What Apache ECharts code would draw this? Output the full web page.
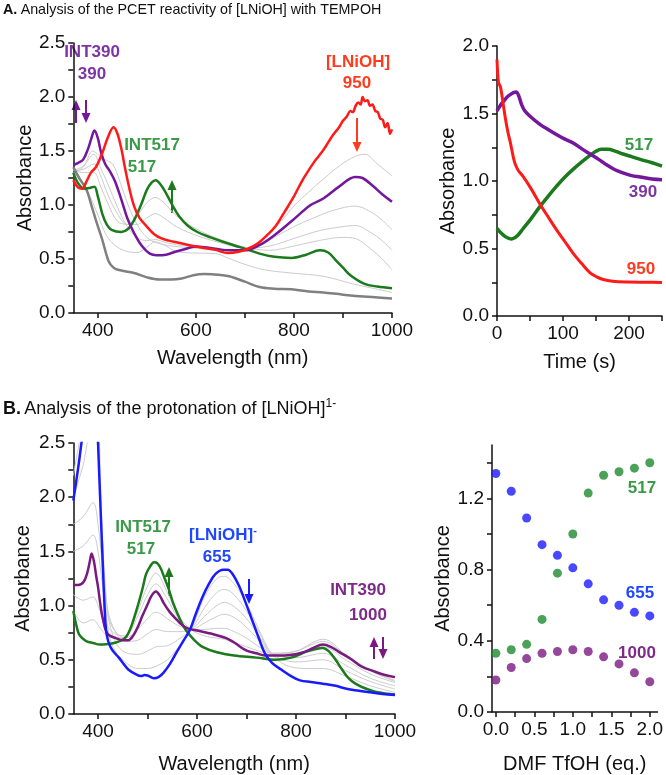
<!DOCTYPE html>
<html>
<head>
<meta charset="utf-8">
<script src="https://cdn.jsdelivr.net/npm/echarts@6/dist/echarts.min.js"></script>
<style>
  html, body { margin: 0; padding: 0; background: #fff; }
  #chart { width: 666px; height: 775px; }
</style>
</head>
<body>
<div id="chart"></div>
<script>
// ---- A: spectra during reaction of [LNiOH] with TEMPOH (wavelength nm, absorbance) ----
const aRed = [[350,1.23],[360,1.16],[368,1.15],[376,1.21],[386,1.30],[396,1.35],[409,1.48],[420,1.62],[432,1.72],[440,1.66],[448,1.52],[456,1.33],[465,1.14],[474,0.99],[485,0.88],[500,0.80],[515,0.73],[530,0.69],[545,0.67],[560,0.655],[580,0.635],[600,0.615],[620,0.60],[640,0.585],[665,0.555],[685,0.565],[704,0.59],[725,0.64],[745,0.72],[762,0.80],[780,0.93],[800,1.08],[815,1.21],[827,1.30],[840,1.39],[850,1.45],[860,1.51],[870,1.58],[880,1.65],[892,1.72],[900,1.78],[908,1.82],[915,1.87],[920,1.86],[926,1.92],[931,1.95],[936,1.93],[940,2.00],[945,1.96],[950,1.97],[955,1.92],[960,1.93],[966,1.87],[971,1.86],[976,1.80],[981,1.79],[986,1.72],[991,1.76],[996,1.66],[1000,1.70]];
const aPurple = [[350,1.37],[360,1.39],[370,1.42],[380,1.52],[387,1.62],[393,1.69],[400,1.62],[407,1.48],[415,1.38],[425,1.31],[435,1.22],[448,1.05],[460,0.88],[474,0.74],[490,0.62],[506,0.55],[520,0.535],[539,0.54],[560,0.57],[584,0.60],[600,0.615],[617,0.61],[640,0.595],[668,0.58],[700,0.58],[730,0.63],[760,0.72],[795,0.85],[834,1.00],[860,1.06],[892,1.17],[925,1.26],[940,1.25],[960,1.18],[980,1.10],[1000,1.03]];
const aGreen = [[350,1.30],[360,1.20],[373,1.15],[385,1.16],[393,1.17],[400,1.08],[409,0.92],[418,0.82],[428,0.77],[448,0.75],[462,0.78],[474,0.86],[488,1.00],[500,1.14],[510,1.21],[518,1.23],[528,1.19],[539,1.11],[552,1.00],[565,0.90],[583,0.81],[603,0.75],[630,0.70],[655,0.66],[690,0.61],[730,0.55],[760,0.52],[795,0.51],[825,0.54],[853,0.58],[870,0.56],[885,0.49],[900,0.42],[915,0.35],[944,0.27],[970,0.245],[1000,0.23]];
const aDark = [[350,1.35],[362,1.25],[377,1.14],[388,0.98],[396,0.86],[409,0.68],[422,0.48],[432,0.42],[441,0.40],[474,0.37],[500,0.33],[526,0.31],[550,0.31],[571,0.32],[595,0.35],[617,0.36],[645,0.355],[668,0.34],[700,0.29],[730,0.24],[760,0.225],[795,0.22],[830,0.20],[860,0.19],[900,0.17],[950,0.15],[1000,0.135]];
const aGray1 = [[350,1.30],[370,1.35],[390,1.50],[400,1.47],[415,1.42],[430,1.38],[445,1.22],[460,1.02],[480,0.82],[500,0.70],[520,0.65],[550,0.62],[600,0.60],[650,0.58],[700,0.59],[740,0.70],[770,0.83],[800,0.99],[830,1.12],[860,1.24],[895,1.37],[925,1.45],[945,1.47],[970,1.38],[1000,1.27]];
const aGray2 = [[350,1.32],[370,1.36],[392,1.47],[405,1.35],[420,1.20],[440,0.98],[460,0.80],[480,0.70],[500,0.67],[517,0.68],[540,0.65],[580,0.62],[630,0.60],[680,0.58],[720,0.60],[760,0.70],[800,0.80],[840,0.88],[880,0.95],[925,0.99],[955,0.94],[980,0.86],[1000,0.77]];
const aGray3 = [[350,1.32],[370,1.33],[392,1.38],[405,1.28],[420,1.10],[440,0.92],[460,0.82],[480,0.82],[500,0.88],[517,0.92],[535,0.88],[560,0.80],[600,0.72],[650,0.65],[700,0.60],[750,0.62],[800,0.69],[850,0.76],[900,0.80],[925,0.81],[955,0.75],[980,0.67],[1000,0.58]];
const aGray4 = [[350,1.33],[370,1.30],[392,1.30],[405,1.18],[420,1.02],[440,0.85],[460,0.82],[480,0.90],[500,1.02],[517,1.07],[535,1.02],[560,0.90],[600,0.78],[650,0.68],[700,0.61],[750,0.58],[800,0.62],[850,0.67],[900,0.70],[925,0.69],[955,0.60],[980,0.50],[1000,0.40]];
const aGray5 = [[350,1.30],[370,1.20],[390,1.02],[405,0.85],[420,0.70],[440,0.61],[460,0.57],[480,0.56],[500,0.61],[517,0.66],[535,0.63],[560,0.57],[600,0.555],[640,0.55],[665,0.51],[700,0.45],[740,0.40],[795,0.37],[860,0.34],[920,0.27],[960,0.23],[1000,0.19]];

// ---- A: kinetic traces (time s, absorbance) ----
const t950 = [[0,1.90],[1,1.80],[2,1.74],[3,1.72],[5,1.70],[7,1.65],[10,1.55],[12.5,1.47],[15,1.40],[17.5,1.34],[20,1.29],[22.5,1.23],[25,1.17],[28,1.12],[32,1.08],[40,1.03],[52,0.94],[65,0.83],[78,0.73],[90,0.64],[103,0.55],[116,0.46],[128,0.39],[141,0.32],[151,0.29],[161,0.27],[175,0.258],[200,0.252],[225,0.25],[250,0.248]];
const t390 = [[0,1.52],[5,1.56],[10,1.59],[15,1.62],[20,1.64],[25,1.655],[29,1.66],[33,1.63],[37,1.57],[42,1.52],[50,1.48],[65,1.42],[78,1.38],[90,1.345],[103,1.31],[116,1.28],[128,1.24],[141,1.20],[154,1.16],[166,1.12],[178,1.085],[191,1.06],[204,1.04],[217,1.03],[235,1.015],[250,1.01]];
const t517 = [[0,0.65],[5,0.62],[12,0.59],[18,0.575],[22,0.57],[27,0.58],[32,0.60],[40,0.65],[50,0.71],[65,0.81],[78,0.89],[90,0.96],[103,1.03],[116,1.09],[128,1.14],[141,1.19],[150,1.22],[158,1.235],[168,1.235],[180,1.22],[191,1.20],[204,1.18],[217,1.16],[235,1.135],[250,1.11]];

// ---- B: spectra during protonation of [LNiOH]1- ----
const bBlue = [[350,1.97],[356,2.15],[361,2.31],[368,2.55],[380,2.9],[392,3.0],[398,2.8],[400,2.5],[405,1.9],[410,1.33],[413,1.0],[416,0.78],[420,0.68],[426,0.61],[434,0.56],[442,0.52],[452,0.46],[461,0.41],[475,0.37],[487,0.35],[494,0.36],[500,0.355],[507,0.34],[513,0.33],[522,0.34],[532,0.38],[545,0.46],[560,0.58],[573,0.68],[585,0.77],[598,0.93],[611,1.08],[624,1.20],[637,1.29],[653,1.33],[662,1.33],[672,1.29],[685,1.18],[698,1.03],[711,0.87],[724,0.71],[737,0.56],[752,0.47],[770,0.41],[790,0.35],[808,0.31],[830,0.295],[854,0.28],[880,0.26],[900,0.235],[919,0.22],[950,0.20],[975,0.185],[1000,0.175]];
const bPurple = [[350,1.19],[360,1.19],[371,1.22],[378,1.30],[383,1.40],[387,1.48],[392,1.40],[396,1.28],[400,1.17],[405,1.00],[410,0.87],[419,0.74],[436,0.70],[450,0.68],[461,0.68],[472,0.73],[481,0.81],[490,0.91],[500,1.01],[508,1.09],[517,1.13],[525,1.09],[533,1.02],[545,0.94],[559,0.87],[570,0.82],[581,0.79],[600,0.77],[630,0.74],[659,0.70],[675,0.66],[698,0.59],[720,0.56],[737,0.54],[760,0.54],[789,0.545],[815,0.57],[835,0.61],[854,0.64],[870,0.62],[886,0.575],[910,0.51],[932,0.44],[960,0.39],[980,0.36],[1000,0.34]];
const bGreen = [[350,0.95],[355,0.84],[361,0.74],[368,0.70],[377,0.67],[390,0.655],[403,0.64],[420,0.645],[436,0.66],[448,0.68],[458,0.72],[468,0.82],[481,1.01],[490,1.16],[497,1.29],[505,1.36],[513,1.40],[520,1.39],[527,1.34],[533,1.27],[543,1.15],[552,1.02],[565,0.88],[578,0.77],[595,0.68],[611,0.62],[640,0.57],[675,0.54],[720,0.52],[757,0.50],[790,0.52],[821,0.575],[840,0.60],[854,0.61],[866,0.58],[880,0.50],[893,0.41],[906,0.33],[920,0.28],[938,0.24],[965,0.20],[1000,0.18]];
const bGray1 = [[350,2.2],[360,2.45],[370,2.7],[390,3.0],[400,2.8],[405,2.1],[410,1.5],[418,0.85],[430,0.62],[450,0.50],[480,0.42],[500,0.42],[517,0.44],[540,0.50],[560,0.60],[588,0.78],[615,1.08],[640,1.25],[655,1.27],[675,1.20],[700,1.02],[725,0.78],[750,0.56],[780,0.45],[820,0.42],[855,0.42],[900,0.35],[950,0.26],[1000,0.20]];
const bGray2 = [[350,2.0],[370,2.3],[390,2.75],[400,2.4],[408,1.7],[418,1.0],[430,0.72],[450,0.58],[480,0.55],[500,0.58],[517,0.62],[540,0.63],[560,0.68],[588,0.78],[615,0.98],[640,1.12],[655,1.15],[675,1.10],[700,0.95],[725,0.76],[750,0.56],[800,0.48],[855,0.50],[900,0.40],[950,0.30],[1000,0.23]];
const bGray3 = [[350,1.75],[370,1.82],[390,1.95],[400,1.75],[410,1.30],[420,0.95],[435,0.76],[455,0.67],[480,0.68],[500,0.74],[517,0.78],[540,0.76],[560,0.76],[588,0.78],[615,0.90],[640,1.00],[655,1.03],[675,0.99],[700,0.88],[725,0.72],[750,0.56],[800,0.52],[855,0.56],[900,0.45],[950,0.33],[1000,0.26]];
const bGray4 = [[350,1.50],[370,1.55],[390,1.65],[400,1.50],[410,1.15],[420,0.90],[435,0.76],[455,0.70],[480,0.78],[500,0.88],[517,0.94],[540,0.88],[560,0.82],[588,0.78],[615,0.84],[640,0.90],[655,0.92],[675,0.89],[700,0.80],[725,0.68],[750,0.56],[800,0.56],[855,0.62],[900,0.50],[950,0.37],[1000,0.29]];
const bGray5 = [[350,1.10],[370,1.05],[390,1.08],[400,1.00],[410,0.88],[420,0.80],[435,0.74],[455,0.72],[480,0.90],[500,1.10],[517,1.20],[540,1.06],[560,0.90],[588,0.78],[615,0.78],[640,0.79],[655,0.79],[675,0.76],[700,0.70],[725,0.62],[750,0.56],[800,0.58],[855,0.67],[900,0.54],[950,0.40],[1000,0.31]];
const bGray6 = [[350,0.95],[370,0.84],[390,0.87],[400,0.82],[410,0.76],[420,0.72],[435,0.70],[455,0.71],[480,0.95],[500,1.18],[517,1.30],[540,1.12],[560,0.92],[588,0.78],[615,0.72],[640,0.70],[655,0.69],[675,0.66],[700,0.62],[725,0.58],[750,0.55],[800,0.58],[855,0.69],[900,0.55],[950,0.40],[1000,0.30]];

// ---- B: titration (eq. TfOH, absorbance) ----
const eqTfOH = [0, 0.2, 0.4, 0.6, 0.8, 1.0, 1.2, 1.4, 1.6, 1.8, 2.0];
const abs517 = [0.33, 0.35, 0.38, 0.52, 0.78, 1.00, 1.23, 1.33, 1.35, 1.37, 1.40];
const abs655 = [1.34, 1.24, 1.09, 0.94, 0.88, 0.81, 0.72, 0.63, 0.60, 0.56, 0.54];
const abs1000 = [0.18, 0.25, 0.30, 0.33, 0.34, 0.35, 0.34, 0.31, 0.27, 0.22, 0.17];

// ---- tick positions ----
const wlTicks = [400, 500, 600, 700, 800, 900, 1000];
const wlLabels = [400, 600, 800, 1000];
const absTicks = [0, 0.25, 0.5, 0.75, 1.0, 1.25, 1.5, 1.75, 2.0, 2.25, 2.5];
const absLabels = [0, 0.5, 1.0, 1.5, 2.0, 2.5];
const kinYTicks = [0, 0.25, 0.5, 0.75, 1.0, 1.25, 1.5, 1.75, 2.0];
const kinYLabels = [0, 0.5, 1.0, 1.5, 2.0];
const timeTicks = [0, 50, 100, 150, 200, 250];
const timeLabels = [0, 100, 200];
const eqTicks = [0, 0.25, 0.5, 0.75, 1.0, 1.25, 1.5, 1.75, 2.0];
const eqLabels = [0, 0.5, 1.0, 1.5, 2.0];
const titYTicks = [0, 0.2, 0.4, 0.6, 0.8, 1.0, 1.2, 1.4];
const titYLabels = [0, 0.4, 0.8, 1.2];

const FONT = '"Liberation Sans", Arial, Helvetica, sans-serif';
const C = {
  red: '#ff1a1a', redT: '#ff3b1e',
  purA: '#74179c', purAT: '#7d35a5',
  purB: '#7a1a80', purBT: '#7f2a8a',
  green: '#1b7a1b', greenT: '#3a9a48', greenDot: '#1f8a2e',
  blue: '#1a1aff', blueT: '#1f47ff',
  dark: '#808080', light: '#cccccc'
};

function fix1(v) { return Number(v).toFixed(1); }

function axis(gridIndex, min, max, ticks, labels, name, gap, fmt) {
  return {
    type: 'value', gridIndex: gridIndex, min: min, max: max,
    name: name, nameLocation: 'middle', nameGap: gap,
    nameTextStyle: { fontSize: 20, color: '#111', fontFamily: FONT },
    axisLine: { show: true, onZero: false, lineStyle: { color: '#111', width: 1.5 } },
    axisTick: { show: true, customValues: ticks, length: 5, lineStyle: { color: '#111', width: 1.5 } },
    axisLabel: { customValues: labels, fontSize: 19, color: '#111', fontFamily: FONT, margin: 8, formatter: fmt },
    splitLine: { show: false }
  };
}

function line(data, idx, color, width, z) {
  return {
    type: 'line', xAxisIndex: idx, yAxisIndex: idx, data: data,
    smooth: 0.35, symbol: 'none', showSymbol: false,
    lineStyle: { color: color, width: width }, z: z || 2, silent: true
  };
}

function dots(ys, color) {
  return {
    type: 'scatter', xAxisIndex: 3, yAxisIndex: 3,
    data: eqTfOH.map((x, i) => [x, ys[i]]),
    symbolSize: 9, itemStyle: { color: color }
  };
}

function label(x, y, text, color, size) {
  return {
    type: 'text', x: x, y: y, silent: true,
    style: { text: text, fill: color, font: 'bold ' + (size || 17) + 'px ' + FONT,
      textAlign: 'center', textVerticalAlign: 'middle' }
  };
}

// vertical arrow from y1 (tail) to y2 (head)
function arrow(x, y1, y2, color) {
  const dir = y2 > y1 ? 1 : -1;
  const hb = y2 - dir * 10;
  return {
    type: 'group', silent: true,
    children: [
      { type: 'line', shape: { x1: x, y1: y1, x2: x, y2: hb }, style: { stroke: color, lineWidth: 2 } },
      { type: 'polygon', shape: { points: [[x - 4.5, hb], [x + 4.5, hb], [x, y2]] }, style: { fill: color } }
    ]
  };
}

const chart = echarts.init(document.getElementById('chart'));

const option = {
  animation: false,
  backgroundColor: '#fff',
  grid: [
    { left: 58, top: 43, width: 334, height: 270 },
    { left: 497, top: 46, width: 165, height: 270 },
    { left: 61, top: 443, width: 334, height: 271 },
    { left: 492, top: 445, width: 170, height: 268 }
  ],
  xAxis: [
    axis(0, 350, 1000, wlTicks, wlLabels, 'Wavelength (nm)', 35, v => v),
    axis(1, 0, 250, timeTicks, timeLabels, 'Time (s)', 36, v => v),
    axis(2, 350, 1000, wlTicks, wlLabels, 'Wavelength (nm)', 40, v => v),
    axis(3, -0.05, 2.1, eqTicks, eqLabels, 'DMF TfOH (eq.)', 42, fix1)
  ],
  yAxis: [
    axis(0, 0, 2.5, absTicks, absLabels, 'Absorbance', 35, fix1),
    axis(1, 0, 2.0, kinYTicks, kinYLabels, 'Absorbance', 39, fix1),
    axis(2, 0, 2.5, absTicks, absLabels, 'Absorbance', 40, fix1),
    axis(3, 0, 1.5, titYTicks, titYLabels, 'Absorbance', 39, fix1)
  ],
  series: [
    line(aGray1, 0, C.light, 1), line(aGray2, 0, C.light, 1), line(aGray3, 0, C.light, 1),
    line(aGray4, 0, C.light, 1), line(aGray5, 0, C.light, 1),
    line(aDark, 0, C.dark, 2.5, 3),
    line(aGreen, 0, C.green, 2.5, 4),
    line(aPurple, 0, C.purA, 2.5, 5),
    line(aRed, 0, C.red, 2.5, 6),

    line(t517, 1, C.green, 3.5, 4),
    line(t390, 1, C.purA, 3.5, 5),
    line(t950, 1, C.red, 3, 6),

    line(bGray1, 2, C.light, 1), line(bGray2, 2, C.light, 1), line(bGray3, 2, C.light, 1),
    line(bGray4, 2, C.light, 1), line(bGray5, 2, C.light, 1), line(bGray6, 2, C.light, 1),
    line(bGreen, 2, C.green, 2.5, 4),
    line(bPurple, 2, C.purB, 2.5, 5),
    line(bBlue, 2, C.blue, 2.5, 6),

    dots(abs517, C.greenDot), dots(abs655, C.blue), dots(abs1000, C.purB)
  ],
  graphic: [
    {
      type: 'text', left: 3, top: 3, silent: true,
      style: {
        text: '{b|A.} {n|Analysis of the PCET reactivity of [LNiOH] with TEMPOH}',
        rich: { b: { font: 'bold 14.3px ' + FONT, fill: '#111' }, n: { font: '14.3px ' + FONT, fill: '#111' } }
      }
    },
    {
      type: 'text', left: 3, top: 398, silent: true,
      style: {
        text: '{b|B.} {n|Analysis of the protonation of [LNiOH]}{s|1-}',
        rich: {
          b: { font: 'bold 18px ' + FONT, fill: '#111', lineHeight: 22 },
          n: { font: '18px ' + FONT, fill: '#111', lineHeight: 22 },
          s: { font: '12px ' + FONT, fill: '#111', verticalAlign: 'top', lineHeight: 22 }
        }
      }
    },
    // panel A spectra annotations
    label(92, 52, 'INT390', C.purAT), label(92, 74, '390', C.purAT),
    arrow(76, 123, 100, C.purA), arrow(86, 100, 123, C.purA),
    label(152, 145, 'INT517', C.greenT), label(142, 167, '517', C.greenT),
    arrow(172, 213, 180, C.green),
    label(358, 62, '[LNiOH]', C.redT), label(357, 83, '950', C.redT),
    arrow(357, 118, 152, C.redT),
    // panel A kinetics annotations
    label(639, 145, '517', C.greenT), label(643, 192, '390', C.purAT), label(641, 269, '950', C.redT),
    // panel B spectra annotations
    label(143, 527, 'INT517', C.greenT), label(141, 549, '517', C.greenT),
    arrow(169, 596, 567, C.green),
    {
      type: 'text', x: 223, y: 535, silent: true,
      style: {
        text: '{a|[LNiOH]}{s|-}', textAlign: 'center', textVerticalAlign: 'middle',
        rich: {
          a: { font: 'bold 17px ' + FONT, fill: C.blueT, lineHeight: 20 },
          s: { font: 'bold 11px ' + FONT, fill: C.blueT, verticalAlign: 'top', lineHeight: 20 }
        }
      }
    },
    label(217, 557, '655', C.blueT),
    arrow(249, 579, 604, C.blue),
    label(358, 590, 'INT390', C.purBT), label(368, 615, '1000', C.purBT),
    arrow(374, 659, 637, C.purB), arrow(383, 637, 659, C.purB),
    // panel B titration annotations
    label(642, 488, '517', C.greenT), label(640, 593, '655', C.blueT), label(637, 653, '1000', C.purBT)
  ]
};

chart.setOption(option);
</script>
</body>
</html>
